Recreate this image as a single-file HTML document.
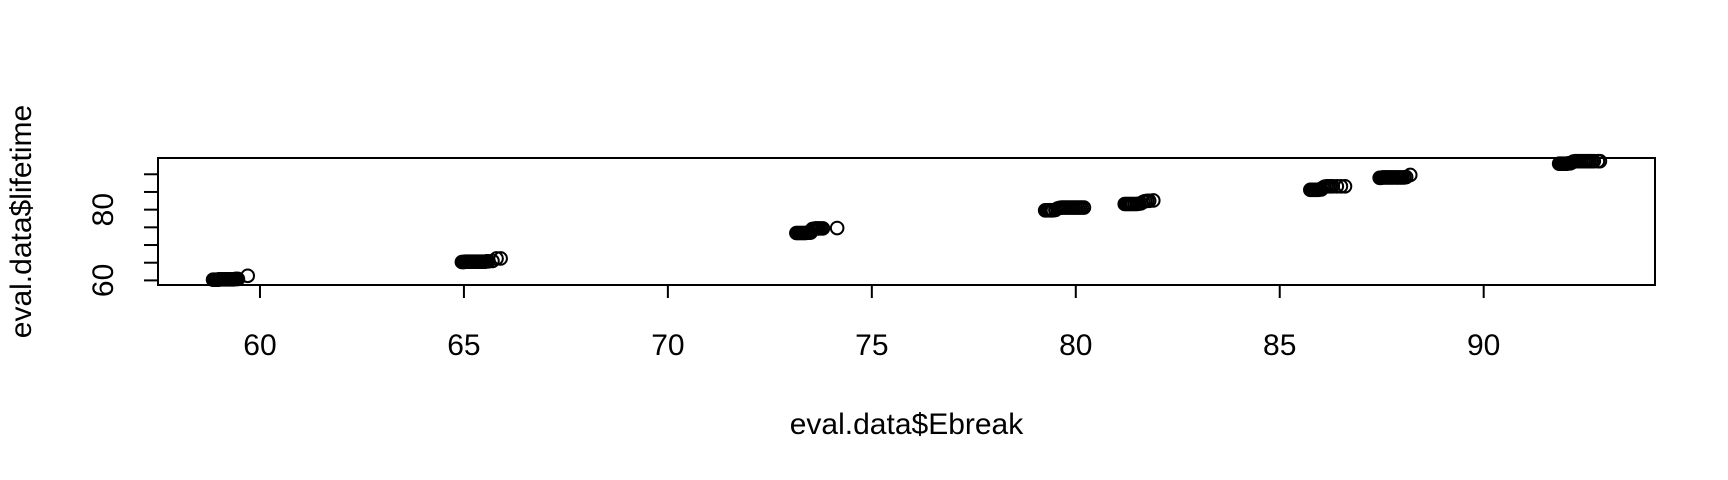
<!DOCTYPE html>
<html><head><meta charset="utf-8"><style>
html,body{margin:0;padding:0;background:#fff;}
svg{display:block;font-family:"Liberation Sans",Arial,sans-serif;}
</style></head><body>
<svg id="chart" width="1728" height="480"></svg>
<script>
const xTicks=[60,65,70,75,80,85,90];
const yTicks=[60,65,70,75,80,85,90];
const yLabels=[60,80];
const xs1=[58.85,58.88,58.92,58.95,58.98,59.0,59.03,59.06,59.1,59.13,59.16,59.2,59.23,59.26,59.3,59.33,59.36,59.4,59.43,59.46,59.7];
const ys1=[60.2,60.2,60.2,60.2,60.2,60.3,60.3,60.3,60.3,60.3,60.3,60.3,60.3,60.3,60.3,60.3,60.3,60.4,60.4,60.4,61.3];
const xs2=[64.95,64.98,65.0,65.04,65.08,65.12,65.16,65.2,65.24,65.28,65.32,65.36,65.4,65.44,65.48,65.52,65.56,65.6,65.7,65.8,65.9];
const ys2=[65.2,65.2,65.2,65.3,65.3,65.3,65.3,65.3,65.3,65.3,65.3,65.3,65.3,65.3,65.3,65.3,65.4,65.4,65.5,66.2,66.2];
const xs3=[73.15,73.18,73.22,73.26,73.3,73.34,73.38,73.42,73.46,73.5,73.54,73.58,73.62,73.66,73.7,73.75,73.8,74.15];
const ys3=[73.4,73.4,73.4,73.4,73.4,73.4,73.4,73.5,73.5,73.5,74.5,74.6,74.7,74.7,74.7,74.7,74.7,74.8];
const xs4=[79.25,79.28,79.32,79.36,79.4,79.44,79.5,79.55,79.6,79.65,79.7,79.75,79.8,79.85,79.9,79.95,80.0,80.05,80.1,80.15,80.2];
const ys4=[79.8,79.8,79.8,79.8,79.8,79.8,79.9,80.3,80.5,80.6,80.6,80.6,80.6,80.6,80.6,80.6,80.6,80.6,80.6,80.6,80.6];
const xs5=[81.2,81.24,81.28,81.32,81.36,81.4,81.45,81.5,81.55,81.6,81.65,81.7,81.75,81.8,81.9];
const ys5=[81.6,81.6,81.6,81.6,81.6,81.6,81.6,81.6,81.7,81.8,82.2,82.4,82.5,82.5,82.6];
const xs6=[85.75,85.78,85.82,85.86,85.9,85.94,85.98,86.02,86.06,86.1,86.15,86.2,86.25,86.3,86.4,86.5,86.6];
const ys6=[85.6,85.6,85.6,85.6,85.6,85.6,85.7,85.7,86.2,86.5,86.6,86.6,86.6,86.6,86.6,86.6,86.6];
const xs7=[87.45,87.48,87.52,87.56,87.6,87.64,87.68,87.72,87.76,87.8,87.84,87.88,87.92,87.96,88.0,88.05,88.1,88.2];
const ys7=[89.0,89.0,89.1,89.1,89.1,89.1,89.1,89.1,89.1,89.1,89.1,89.1,89.1,89.1,89.1,89.1,89.2,89.8];
const xs8=[91.85,91.88,91.92,91.96,92.0,92.04,92.08,92.12,92.16,92.2,92.25,92.3,92.35,92.4,92.45,92.5,92.55,92.6,92.65,92.7,92.8,92.85];
const ys8=[93.0,93.0,93.0,93.0,93.0,93.0,93.1,93.1,93.3,93.6,93.7,93.7,93.7,93.7,93.7,93.7,93.7,93.7,93.7,93.7,93.7,93.7];
const groups=[[xs1,ys1],[xs2,ys2],[xs3,ys3],[xs4,ys4],[xs5,ys5],[xs6,ys6],[xs7,ys7],[xs8,ys8]];

const L=158,R=1655,T=158,B=285;
const xMin=57.5,xMax=94.2,yMin=58.7,yMax=94.6;
const sx=v=>L+(v-xMin)/(xMax-xMin)*(R-L);
const sy=v=>B-(v-yMin)/(yMax-yMin)*(B-T);
const svg=document.getElementById('chart');
const NS='http://www.w3.org/2000/svg';
function mk(tag,attrs,parent){const e=document.createElementNS(NS,tag);for(const k in attrs)e.setAttribute(k,attrs[k]);(parent||svg).appendChild(e);return e;}

const box=mk('rect',{x:L,y:T,width:R-L,height:B-T,fill:'none',stroke:'#000','stroke-width':2});



const xa=mk('g',{});


xTicks.forEach(t=>{
  const l=mk('line',{x1:sx(t),x2:sx(t),y1:B,y2:B+13,stroke:'#000','stroke-width':2},xa);
  
  
  const tx=mk('text',{x:sx(t),y:355,'text-anchor':'middle','font-size':30},xa);
  tx.textContent=t;
  
  
});
const ya=mk('g',{});


yTicks.forEach(t=>{
  const l=mk('line',{x1:L-14,x2:L,y1:sy(t),y2:sy(t),stroke:'#000','stroke-width':2},ya);
  
  
});
yLabels.forEach(t=>{
  const tx=mk('text',{x:0,y:0,'text-anchor':'middle','font-size':30,transform:`translate(113,${sy(t)}) rotate(-90)`},ya);
  tx.textContent=t;
  
  
});
const xt=mk('text',{x:(L+R)/2,y:434,'text-anchor':'middle','font-size':30});
xt.textContent='eval.data$Ebreak';


const yt=mk('text',{x:0,y:0,'text-anchor':'middle','font-size':30,transform:`translate(31,${(T+B)/2}) rotate(-90)`});
yt.textContent='eval.data$lifetime';



const pts=mk('g',{});


groups.forEach(([gx,gy])=>{
  gx.forEach((v,i)=>{
    const c=mk('circle',{cx:sx(v),cy:sy(gy[i]),r:6.3,fill:'none',stroke:'#000','stroke-width':2},pts);
    
    
  });
});
</script>
</body></html>
